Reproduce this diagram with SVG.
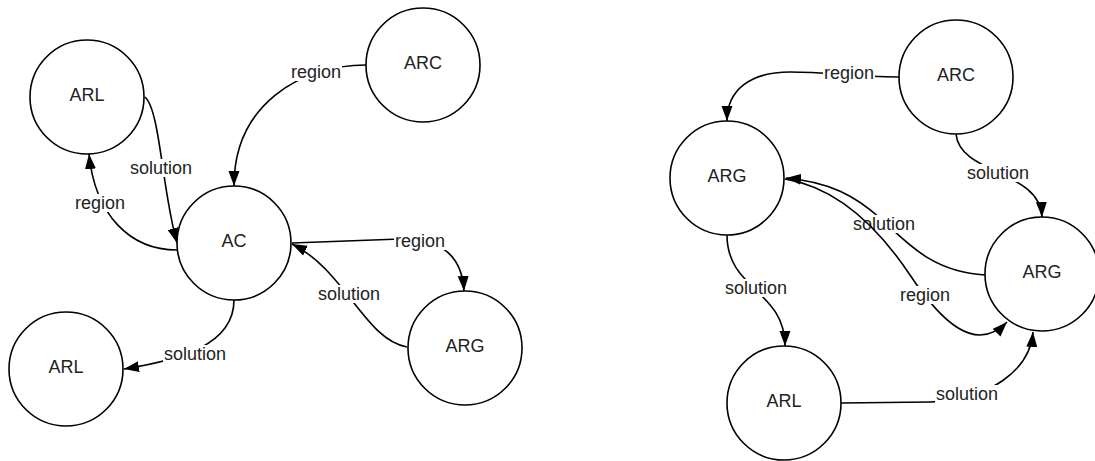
<svg xmlns="http://www.w3.org/2000/svg" width="1095" height="461" viewBox="0 0 1095 461">
  <style>
    .node circle { fill: #fff; stroke: #000; stroke-width: 1.6; }
    .node text, .lbl text { font-family: "Liberation Sans", Arial, sans-serif; font-size: 18px; fill: #222; text-anchor: middle; dominant-baseline: central; }
    .edge { fill: none; stroke: #000; stroke-width: 1.6; }
    .arrow { marker-end: url(#head); }
    .lbl rect { fill: #fff; }
  </style>
  <defs>
    <marker id="head" markerUnits="userSpaceOnUse" markerWidth="16" markerHeight="12" refX="15" refY="5.5" orient="auto">
      <path d="M0,0 L15,5.5 L0,11 Z" fill="#000"/>
    </marker>
  </defs>
  <rect width="1095" height="461" fill="#fff"/>

  <!-- connectors: each edge is drawn with its own label box so only its own line is cut -->
  <g id="connectors">
    <!-- left graph -->
    <g id="e-arc-ac">
      <path class="edge arrow" d="M366 65 C300 65,234 105,234 186"/>
      <g class="lbl"><rect x="290" y="63" width="52" height="18"/><text x="316" y="72">region</text></g>
    </g>
    <g id="e-arl1-ac">
      <path class="edge arrow" d="M145 97 C160 110,162 190,177 243"/>
      <g class="lbl"><rect x="129" y="159" width="64" height="18"/><text x="161" y="168">solution</text></g>
    </g>
    <g id="e-ac-arl1">
      <path class="edge arrow" d="M177 250 C130 250,95 215,89 154"/>
      <g class="lbl"><rect x="74" y="194" width="52" height="18"/><text x="100" y="203">region</text></g>
    </g>
    <g id="e-ac-arl2">
      <path class="edge arrow" d="M234 300 C234 345,180 360,124 369"/>
      <g class="lbl"><rect x="163" y="345" width="64" height="18"/><text x="195" y="354">solution</text></g>
    </g>
    <g id="e-ac-arg">
      <path class="edge arrow" d="M292 243 L400 239 C440 238,462 255,464 291"/>
      <g class="lbl"><rect x="394" y="232" width="52" height="18"/><text x="420" y="241">region</text></g>
    </g>
    <g id="e-arg-ac">
      <path class="edge arrow" d="M407 347 C365 340,345 270,292 244"/>
      <g class="lbl"><rect x="317" y="285" width="64" height="18"/><text x="349" y="294">solution</text></g>
    </g>

    <!-- right graph -->
    <g id="e-arc-argl">
      <path class="edge arrow" d="M899 77 C850 77,830 72,790 72 C750 72,727 90,727 121"/>
      <g class="lbl"><rect x="823" y="64" width="52" height="18"/><text x="849" y="73">region</text></g>
    </g>
    <g id="e-arc-argr">
      <path class="edge arrow" d="M956 134 C960 175,1040 170,1042 217"/>
      <g class="lbl"><rect x="966" y="164" width="64" height="18"/><text x="998" y="173">solution</text></g>
    </g>
    <g id="e-argl-arl">
      <path class="edge arrow" d="M727 235 C727 290,785 290,785 346"/>
      <g class="lbl"><rect x="724" y="279" width="64" height="18"/><text x="756" y="288">solution</text></g>
    </g>
    <g id="e-arl-argr">
      <path class="edge arrow" d="M841 403 L930 402 C990 400,1030 370,1033 332"/>
      <g class="lbl"><rect x="935" y="385" width="64" height="18"/><text x="967" y="394">solution</text></g>
    </g>
    <g id="e-argr-argl">
      <path class="edge arrow" d="M985 275 C930 272,905 240,880 218 C855 196,830 182,786 178"/>
      <g class="lbl"><rect x="852" y="215" width="64" height="18"/><text x="884" y="224">solution</text></g>
    </g>
    <g id="e-argl-argr">
      <path class="edge arrow" d="M785 179 C840 188,880 230,910 275 C940 320,975 355,1007 322"/>
      <g class="lbl"><rect x="899" y="286" width="52" height="18"/><text x="925" y="295">region</text></g>
    </g>
  </g>

  <!-- left graph nodes -->
  <g id="n-arl1" class="node"><circle cx="87" cy="97" r="57"/><text x="87" y="95">ARL</text></g>
  <g id="n-arc1" class="node"><circle cx="423" cy="65" r="57"/><text x="423" y="63">ARC</text></g>
  <g id="n-ac" class="node"><circle cx="234" cy="243" r="57"/><text x="234" y="241">AC</text></g>
  <g id="n-arl2" class="node"><circle cx="66" cy="369" r="57"/><text x="66" y="367">ARL</text></g>
  <g id="n-arg1" class="node"><circle cx="465" cy="348" r="57"/><text x="465" y="346">ARG</text></g>

  <!-- right graph nodes -->
  <g id="n-arc2" class="node"><circle cx="956" cy="77" r="57"/><text x="956" y="75">ARC</text></g>
  <g id="n-argl" class="node"><circle cx="727" cy="178" r="57"/><text x="727" y="176">ARG</text></g>
  <g id="n-argr" class="node"><circle cx="1042" cy="274" r="57"/><text x="1042" y="272">ARG</text></g>
  <g id="n-arl3" class="node"><circle cx="784" cy="403" r="57"/><text x="784" y="401">ARL</text></g>
</svg>
